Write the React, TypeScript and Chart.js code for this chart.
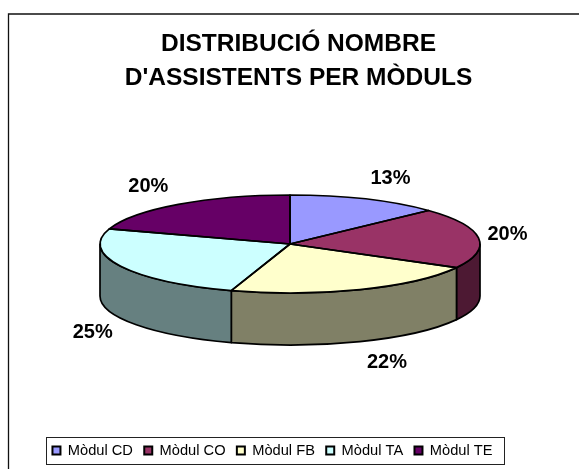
import React, { useEffect, useRef } from "react";
import { Chart, registerables } from "chart.js";

Chart.register(...registerables);

const categories = ["Mòdul CD", "Mòdul CO", "Mòdul FB", "Mòdul TA", "Mòdul TE"];
const percentages = [13, 20, 22, 25, 20];
const titleLines = ["DISTRIBUCIÓ NOMBRE", "D'ASSISTENTS PER MÒDULS"];

const topColors = ["#9999FF", "#993366", "#FFFFCC", "#CCFFFF", "#660066"];
const sideColors = ["#4D4D80", "#4D1933", "#808066", "#668080", "#330033"];

// Label offset from each slice's rim point at its mid angle.
const labelOffsets = [
  [25, -21],
  [29, -3],
  [27, 73],
  [-28, 66],
  [-30, -18],
];

const FONT = '"Liberation Sans", Arial, sans-serif';
const CENTER_X = 290;
const CENTER_Y = 244;
const RADIUS = 190;
const TILT = 49 / 190;
const DEPTH = 52;
const OUTLINE = 1.7;
const LEGEND_BOX = { left: 46, top: 437, right: 504, bottom: 464 };
const LEGEND_CENTER_X = 272.5;
const LEGEND_HALF_WIDTH = 270;

const pie3d = {
  id: "pie3d",
  afterLayout(chart: any) {
    const legend = chart.legend;
    const size = legend.options.labels.font.size;
    const pad = legend.options.labels.padding;
    const h = legend.bottom - legend.top;
    legend.left = LEGEND_CENTER_X - LEGEND_HALF_WIDTH;
    legend.right = LEGEND_CENTER_X + LEGEND_HALF_WIDTH;
    legend.top = (LEGEND_BOX.top + LEGEND_BOX.bottom) / 2 - pad - size / 2;
    legend.bottom = legend.top + h;
  },
  beforeDatasetsDraw(chart: any) {
    const ctx = chart.ctx;
    const arcs = chart.getDatasetMeta(0).data;
    const rx = RADIUS;
    const ry = RADIUS * TILT;
    ctx.save();
    ctx.lineWidth = OUTLINE;
    ctx.strokeStyle = "#000";
    ctx.lineJoin = "round";
    arcs.forEach((arc: any, i: number) => {
      const a = Math.max(arc.startAngle, 0);
      const b = Math.min(arc.endAngle, Math.PI);
      if (b <= a) return;
      ctx.beginPath();
      ctx.ellipse(CENTER_X, CENTER_Y, rx, ry, 0, a, b);
      ctx.lineTo(CENTER_X + rx * Math.cos(b), CENTER_Y + ry * Math.sin(b) + DEPTH);
      ctx.ellipse(CENTER_X, CENTER_Y + DEPTH, rx, ry, 0, b, a, true);
      ctx.closePath();
      ctx.fillStyle = sideColors[i];
      ctx.fill();
      ctx.stroke();
    });
    ctx.restore();
    const first = arcs[0];
    ctx.save();
    ctx.translate(CENTER_X, CENTER_Y);
    ctx.scale(1, TILT);
    ctx.translate(-first.x, -first.y);
  },
  afterDatasetsDraw(chart: any) {
    const ctx = chart.ctx;
    ctx.restore();
    const arcs = chart.getDatasetMeta(0).data;
    const rx = RADIUS;
    const ry = RADIUS * TILT;
    const total = percentages.reduce((s, v) => s + v, 0);
    ctx.save();
    ctx.lineWidth = OUTLINE;
    ctx.strokeStyle = "#000";
    ctx.lineJoin = "round";
    arcs.forEach((arc: any) => {
      ctx.beginPath();
      ctx.moveTo(CENTER_X, CENTER_Y);
      ctx.ellipse(CENTER_X, CENTER_Y, rx, ry, 0, arc.startAngle, arc.endAngle);
      ctx.closePath();
      ctx.stroke();
    });
    ctx.fillStyle = "#000";
    ctx.font = `bold 20px ${FONT}`;
    ctx.textAlign = "center";
    ctx.textBaseline = "middle";
    arcs.forEach((arc: any, i: number) => {
      const mid = (arc.startAngle + arc.endAngle) / 2;
      const x = CENTER_X + rx * Math.cos(mid) + labelOffsets[i][0];
      const y = CENTER_Y + ry * Math.sin(mid) + labelOffsets[i][1];
      ctx.fillText(`${Math.round((percentages[i] / total) * 100)}%`, x, y);
    });
    ctx.restore();
  },
  afterDraw(chart: any) {
    const ctx = chart.ctx;
    ctx.save();
    ctx.strokeStyle = "#111";
    ctx.lineWidth = 1.3;
    ctx.beginPath();
    ctx.moveTo(8.5, chart.height);
    ctx.lineTo(8.5, 14);
    ctx.lineTo(chart.width, 14);
    ctx.stroke();
    ctx.lineWidth = 1;
    ctx.strokeStyle = "#222";
    ctx.strokeRect(
      LEGEND_BOX.left + 0.5,
      LEGEND_BOX.top + 0.5,
      LEGEND_BOX.right - LEGEND_BOX.left,
      LEGEND_BOX.bottom - LEGEND_BOX.top
    );
    ctx.restore();
  },
};

export default function App() {
  const ref = useRef<HTMLCanvasElement>(null);
  useEffect(() => {
    const chart = new Chart(ref.current as HTMLCanvasElement, {
      type: "pie",
      data: {
        labels: categories,
        datasets: [
          {
            data: percentages,
            backgroundColor: topColors,
            borderWidth: 0,
            radius: RADIUS,
            clip: false,
          } as any,
        ],
      },
      plugins: [pie3d],
      options: {
        responsive: false,
        animation: false,
        events: [],
        layout: { padding: { left: 18 } },
        plugins: {
          tooltip: { enabled: false },
          title: {
            display: true,
            text: titleLines,
            color: "#000",
            padding: { top: 27, bottom: 0 },
            font: { family: FONT, size: 24.5, weight: "bold", lineHeight: 1.39 },
          },
          legend: {
            display: true,
            position: "bottom",
            labels: {
              color: "#000",
              boxWidth: 8,
              boxHeight: 8,
              padding: 11.3,
              font: { family: FONT, size: 14.67 },
              generateLabels(c: any) {
                return Chart.overrides.pie.plugins.legend.labels
                  .generateLabels(c)
                  .map((item: any) => ({ ...item, strokeStyle: "#000", lineWidth: 2 }));
              },
            },
          },
        },
      } as any,
    });
    return () => chart.destroy();
  }, []);
  return (
    <div style={{ position: "absolute", left: 0, top: 0 }}>
      <canvas ref={ref} width={579} height={469} style={{ display: "block" }} />
    </div>
  );
}
